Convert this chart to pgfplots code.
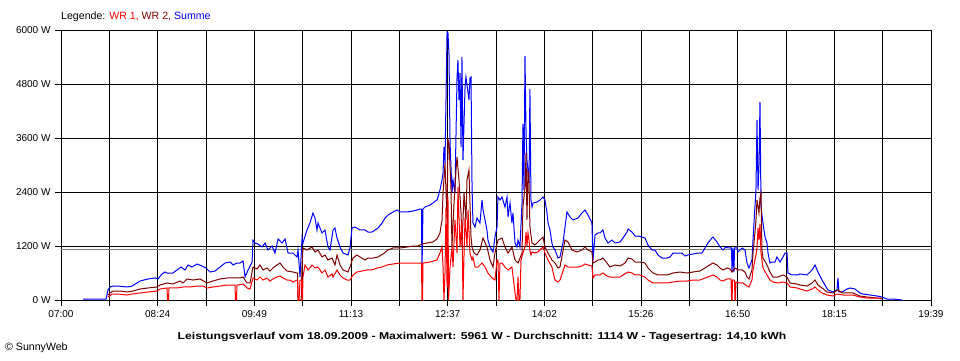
\documentclass[border=0pt]{standalone}
\usepackage{fontspec}
\setmainfont{Liberation Sans}
\usepackage{pgfplots}
\usepackage{pgfplotstable}
\pgfplotsset{compat=1.18}
\definecolor{wr1}{RGB}{255,0,0}
\definecolor{wr2}{RGB}{128,0,0}
\definecolor{summe}{RGB}{0,0,255}
\definecolor{avgc}{RGB}{128,128,128}

% x: minutes after 07:00, y: W
\pgfplotstableread{
t w
19.2 20
39.3 20
40.1 110
41.0 222
42.7 289
45.4 311
49.7 311
57.6 289
62.0 311
69.0 422
75.9 467
82.0 489
84.6 467
88.1 578
90.7 622
92.5 600
97.7 600
101.2 667
104.7 733
108.2 667
110.8 778
114.3 733
118.7 800
123.0 756
126.5 711
130.0 622
134.4 644
138.7 733
143.1 822
147.5 844
150.1 778
153.6 822
156.2 822
158.8 867
160.6 511
163.2 667
166.7 844
167.5 1333
169.3 1267
171.9 1244
175.4 1178
178.0 1267
180.6 1111
184.1 1200
186.7 1044
189.4 1356
192.8 1267
195.5 1356
198.1 1044
202.4 1044
205.9 956
206.8 1111
208.5 511
210.3 1378
211.1 1267
214.6 1556
217.2 1711
219.8 1933
221.6 1822
223.3 1556
224.2 1711
227.7 1489
230.3 1556
232.9 1178
234.7 1111
237.3 1556
239.0 1600
240.8 1378
243.4 1178
246.0 1044
250.4 1000
252.1 1156
253.9 1600
256.5 1622
260.8 1556
265.2 1556
267.8 1511
271.3 1511
273.9 1556
276.6 1600
280.1 1711
282.7 1822
285.3 1889
289.7 1956
293.2 2000
295.8 1956
298.4 1956
301.9 1956
307.1 1978
310.6 2000
313.2 2022
314.5 2022
314.9 600
315.8 2022
317.6 2067
321.9 2111
324.5 2156
328.0 2222
328.9 2289
330.6 2444
332.4 2667
333.3 2822
334.1 3400
335.0 3044
336.8 5961
337.6 5933
338.5 5444
339.4 3511
341.1 2378
342.0 2667
343.7 2378
345.5 4956
346.3 5333
347.2 4444
348.1 5044
349.0 3400
349.8 5400
350.7 3111
352.5 4733
353.3 4956
355.1 4600
355.9 4444
356.8 4933
357.7 4956
358.6 2511
359.4 1711
361.2 1622
362.9 1822
365.5 1711
367.3 2222
368.2 2000
369.9 1778
371.6 1556
372.5 1333
374.3 1178
376.9 1067
378.6 1400
380.4 1622
381.2 2289
383.0 2222
384.7 2289
387.3 2067
389.1 2289
390.0 1844
391.7 2156
393.4 1711
394.3 1933
396.1 1267
397.8 1178
398.7 1333
400.4 1178
402.2 2156
403.0 3911
403.9 2444
404.8 5422
405.7 3733
406.5 3111
407.6 2822
408.3 2600
409.1 4689
410.0 2222
410.9 2067
411.8 2156
415.3 2178
417.9 2222
420.5 2289
422.2 2222
424.0 1933
424.9 1711
426.6 1556
428.3 1267
429.2 1178
431.0 1111
433.6 933
435.3 956
437.9 1267
441.4 1956
444.1 1844
446.7 1778
451.0 1822
454.5 1933
457.1 2000
459.8 1889
463.2 1711
464.1 889
465.9 1444
468.5 1489
470.2 1489
472.8 1556
474.6 1378
477.2 1267
480.7 1333
483.3 1267
487.7 1289
490.3 1378
493.8 1511
494.7 1578
498.1 1511
500.8 1422
503.4 1422
506.9 1400
509.5 1378
512.1 1222
515.6 1111
518.2 1111
520.8 1000
524.3 933
528.7 933
531.3 956
533.9 1044
538.3 1044
541.7 1044
544.4 978
547.0 1000
551.3 1022
555.7 1044
559.2 1044
561.8 1156
564.4 1267
567.9 1378
568.8 1400
572.3 1289
574.9 1178
577.5 1111
580.1 1178
581.9 1156
584.9 1156
585.4 622
586.2 1156
587.1 622
587.6 1156
589.7 1156
590.6 1067
594.1 1156
596.7 1111
598.5 822
600.2 711
602.8 889
603.7 1333
605.4 2067
606.3 2444
607.2 4000
608.1 2444
608.9 2933
609.8 4400
610.7 2067
612.4 1711
614.2 1400
615.9 1267
616.8 1044
618.5 822
620.3 844
622.9 844
624.6 956
627.3 844
629.9 956
631.6 1044
633.4 1044
634.2 600
637.7 556
642.1 556
644.7 578
650.8 556
655.2 667
657.8 778
660.4 622
663.9 444
666.5 333
669.1 222
673.5 178
677.0 222
677.8 489
678.7 178
681.3 178
685.7 244
688.3 267
692.7 244
697.0 156
699.7 133
705.8 111
711.9 89
716.2 67
720.6 22
725.8 22
733.7 0
}\summe

\pgfplotstableread{
t w
41.0 111
42.7 156
45.4 200
51.5 200
57.6 178
62.8 200
68.9 244
75.9 267
83.8 289
86.4 333
92.5 378
97.7 356
103.8 422
106.4 378
109.9 467
115.2 444
121.3 467
127.4 378
132.6 422
138.7 467
144.8 489
150.1 489
156.2 489
158.8 511
162.3 378
164.9 378
167.5 733
171.0 689
173.6 778
176.2 667
179.7 711
182.3 644
184.9 711
188.4 778
191.1 822
193.7 733
197.2 644
202.4 622
205.9 600
206.4 600
206.8 0
208.5 0
209.5 0
210.3 778
211.1 1156
214.6 1111
219.0 1178
221.6 1067
224.2 1111
227.7 956
230.3 1000
232.9 889
236.4 933
239.0 778
240.8 1000
243.4 778
246.0 667
250.4 622
252.1 733
254.7 933
258.2 1000
260.8 956
265.2 889
267.8 933
272.2 933
276.6 956
280.9 1022
285.3 1111
289.6 1156
295.7 1156
301.9 1178
307.1 1200
311.5 1200
314.9 1244
319.3 1267
324.5 1289
328.0 1356
330.6 1489
332.4 1778
333.3 2378
335.0 3044
336.8 1778
337.6 3556
338.5 3489
340.2 2511
341.1 1178
342.9 2156
344.6 2889
345.5 3178
347.2 2667
349.0 1933
349.8 1178
351.6 2378
353.3 1778
354.2 2667
355.9 2889
357.7 1400
358.6 1178
360.3 1044
362.9 1000
365.5 1111
368.2 1378
371.6 1178
374.3 889
376.9 733
378.6 1044
381.2 1333
384.7 1378
387.3 1178
390.0 1044
393.4 1178
396.1 889
398.7 822
402.2 1044
403.0 2067
404.8 2511
405.7 3267
406.5 1778
407.4 2889
408.3 2600
409.1 1622
410.9 1267
413.5 1222
416.1 1289
419.6 1378
420.5 1400
422.2 1178
424.9 1044
428.3 889
431.0 822
433.6 711
435.3 733
439.7 1333
442.3 1289
445.8 1111
450.2 1067
454.5 1111
457.1 1178
459.8 1111
463.2 1067
464.1 822
465.9 844
468.5 889
470.2 889
472.8 933
476.3 822
478.9 733
483.3 778
487.7 756
492.1 822
494.7 933
498.1 911
500.8 844
505.1 844
509.5 822
512.1 711
516.5 600
520.8 556
528.7 556
533.9 600
540.0 622
546.1 600
551.3 622
557.4 644
561.8 711
564.4 756
568.8 822
572.3 778
574.9 711
577.5 667
581.0 711
583.6 689
585.4 622
588.0 711
590.6 667
594.1 667
596.7 622
598.5 511
600.2 467
602.8 667
603.7 1044
605.4 1489
606.3 1778
607.2 2222
608.9 1933
609.8 2267
610.7 2378
611.5 1111
612.4 933
615.9 778
618.5 622
621.1 511
625.5 511
629.9 556
633.4 511
636.0 378
642.1 356
644.7 333
650.8 311
655.2 378
657.8 444
660.4 333
663.9 267
668.3 178
673.5 156
677.8 222
681.3 156
686.6 156
690.9 156
697.0 89
703.1 67
711.9 44
716.2 44
}\wrzwei

\pgfplotstableread{
t w
41.0 67
44.5 133
49.7 133
57.6 111
62.0 133
68.9 156
75.9 178
83.8 200
86.4 244
92.5 267
92.9 0
93.8 0
94.2 267
101.2 267
106.4 289
112.5 289
118.6 311
123.9 311
127.4 267
132.6 289
138.7 311
144.8 333
151.8 333
152.2 0
153.1 0
153.5 333
154.4 333
158.8 356
162.3 267
164.9 244
167.5 489
171.0 444
173.6 511
176.2 444
179.7 489
182.3 422
184.9 467
188.4 511
191.1 533
193.7 489
197.2 444
199.8 444
202.4 400
205.9 444
206.4 444
206.8 0
207.7 0
208.5 444
209.8 444
210.3 0
210.7 0
211.1 511
212.9 778
215.5 667
219.0 778
221.6 711
224.2 733
227.7 600
230.3 667
232.9 511
236.4 578
237.3 511
240.8 667
243.4 556
246.0 489
249.5 444
252.1 444
254.7 556
258.2 622
262.6 644
267.0 667
271.3 667
275.7 711
280.0 733
284.4 778
289.6 800
295.7 822
301.9 822
307.1 822
313.2 822
314.5 822
314.9 0
315.4 0
315.8 822
321.9 844
328.0 889
330.6 1044
332.4 1178
333.3 733
334.1 0
335.0 600
335.9 2067
336.8 289
337.6 2289
338.1 0
339.4 733
341.1 1178
342.0 733
343.7 1778
345.5 1044
346.3 2511
348.1 1178
349.8 1778
350.7 0
351.6 1000
352.5 1844
354.2 1178
355.1 2000
356.8 1044
358.6 889
359.4 956
361.2 733
363.8 733
367.3 822
369.9 733
372.5 600
376.0 489
378.6 444
380.4 889
381.2 889
382.1 0
383.0 822
384.7 822
387.3 733
390.0 667
393.4 733
396.1 156
396.9 0
397.8 0
398.7 511
399.5 0
400.4 0
401.3 889
403.0 1044
404.8 1178
405.7 1511
406.5 1200
407.4 1489
408.3 1333
409.1 1100
410.0 1000
410.9 1067
413.5 1044
416.1 1067
419.6 1156
420.5 1178
422.2 1044
424.9 889
428.3 733
429.2 622
431.0 444
433.6 400
435.3 444
439.7 778
442.3 733
446.7 733
451.0 733
454.5 756
457.1 800
459.8 778
463.2 756
464.1 489
465.9 556
468.5 556
470.2 556
472.8 600
476.3 533
478.9 511
483.3 511
487.7 511
490.3 556
494.7 622
498.1 600
500.8 556
505.1 556
509.5 511
512.1 444
516.5 378
520.8 378
528.7 378
533.9 400
540.0 422
546.1 422
551.3 444
557.4 444
561.8 489
564.4 511
568.8 556
572.3 511
574.9 444
577.5 422
581.0 467
584.5 467
585.0 0
585.5 0
585.8 444
587.5 444
588.0 0
588.4 0
588.8 400
592.3 378
594.9 378
598.5 311
600.2 289
602.8 444
603.7 667
605.4 889
606.3 1000
607.2 1156
608.1 1600
608.9 1333
609.8 1689
610.7 1044
611.5 889
612.4 711
615.9 556
618.5 444
621.1 400
625.5 378
629.9 400
633.4 378
636.0 289
642.1 267
644.7 244
650.8 200
655.2 244
657.8 289
660.4 222
663.9 156
668.3 111
673.5 89
677.0 133
682.2 111
690.9 111
697.0 67
703.1 44
711.9 44
716.2 22
}\wreins

\begin{document}
\begin{tikzpicture}
\path[use as bounding box] (0,0) rectangle (960pt,360pt);
\begin{axis}[
  at={(61pt,60pt)}, anchor=south west,
  width=870pt, height=270pt, scale only axis,
  xmin=0, xmax=759, ymin=0, ymax=6000,
  xtick={0,84.333,168.667,253,337.333,421.667,506,590.333,674.667,759},
  minor xtick={42.167,126.5,210.833,295.167,379.5,463.833,548.167,632.5,716.833},
  xticklabels={07:00,08:24,09:49,11:13,12:37,14:02,15:26,16:50,18:15,19:39},
  ytick={0,1200,2400,3600,4800,6000},
  yticklabels={0 W,1200 W,2400 W,3600 W,4800 W,6000 W},
  xtick pos=left, ytick pos=left,
  grid=both,
  major grid style={black, line width=1pt},
  minor grid style={black, line width=1pt},
  tick align=outside, major tick length=6pt, minor tick length=6pt,
  tick style={black, line width=1pt},
  axis line style={black, line width=1pt},
  tick label style={font=\fontsize{10}{12}\selectfont},
  xticklabel style={yshift=-1pt},
  yticklabel style={xshift=-1pt},
]
\addplot[avgc, line width=1pt] coordinates {(0,1114) (759,1114)};
\addplot[summe, line width=1pt] table[x=t, y=w] {\summe};
\addplot[wr2, line width=1pt] table[x=t, y=w] {\wrzwei};
\addplot[wr1, line width=1pt] table[x=t, y=w] {\wreins};
\end{axis}
\node[anchor=west, inner sep=0pt, font=\fontsize{10.6}{12}\selectfont] at (61pt,343pt)
  {Legende: \textcolor{wr1}{WR 1,} \textcolor{wr2}{WR 2,} \textcolor{summe}{Summe}};
\node[inner sep=0pt, font=\bfseries\fontsize{10}{12}\selectfont] at (482pt,23pt)
  {\scalebox{1.22}[1]{Leistungsverlauf vom 18.09.2009 - Maximalwert: 5961 W - Durchschnitt: 1114 W - Tagesertrag: 14,10 kWh}};
\node[anchor=west, inner sep=0pt, font=\fontsize{10.6}{12}\selectfont] at (5pt,12pt) {© SunnyWeb};
\end{tikzpicture}
\end{document}
